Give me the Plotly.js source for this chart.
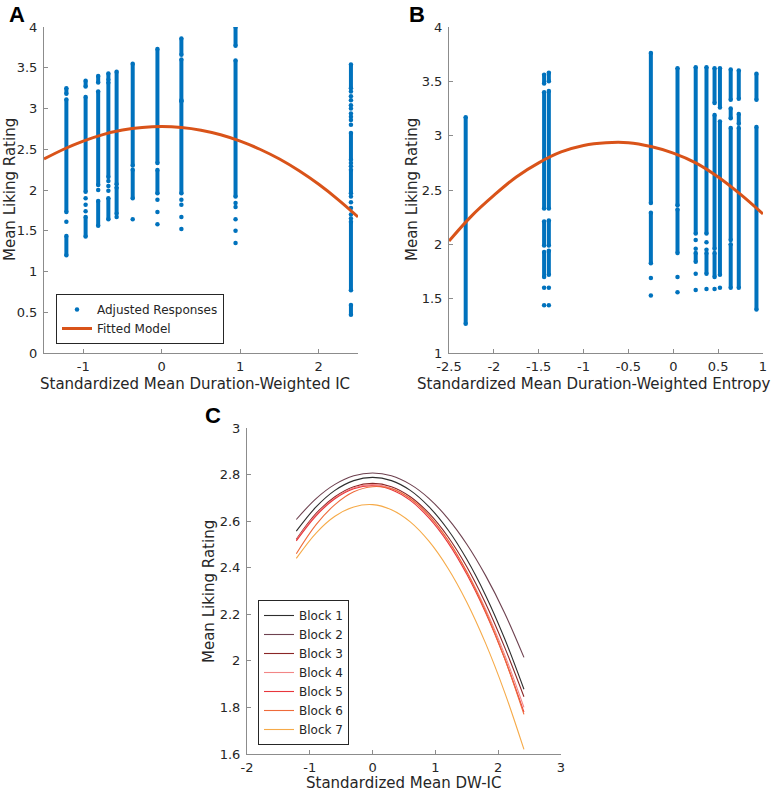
<!DOCTYPE html>
<html><head><meta charset="utf-8">
<script src="https://cdn.plot.ly/plotly-3.0.1.min.js"></script>
<style>html,body{margin:0;padding:0;background:#fff}#chart{width:775px;height:791px}</style>
</head><body><div id="chart"></div>
<script>
// ---------- Panel A: Duration-weighted IC ----------
const icColX = [-1.215, -0.97, -0.81, -0.68, -0.575, -0.37, -0.055, 0.25, 0.94, 2.41];
const icColRuns = [
  [[3.18,3.25],[1.73,3.11],[1.20,1.435]],
  [[3.27,3.34],[1.98,3.14],[1.43,1.67]],
  [[3.32,3.40],[2.06,3.21],[1.56,1.865]],
  [[3.35,3.43],[2.16,3.32],[1.64,1.90]],
  [[2.07,3.45],[1.71,2.03]],
  [[2.30,3.55],[1.90,2.25]],
  [[2.33,3.73],[1.96,2.245]],
  [[3.66,3.86],[3.10,3.60],[1.96,3.09]],
  [[3.77,4.00],[1.92,3.59]],
  [[3.25,3.54],[2.37,2.70],[1.96,2.25],[0.77,1.61],[0.47,0.59]]
];
const icColDots = [
  [1.61],
  [1.90,1.82,1.74],
  [2.00],
  [2.11,2.05,1.99],
  [1.67],
  [1.64],
  [1.88,1.73,1.58],
  [1.88,1.82,1.67,1.52],
  [1.84,1.79,1.64,1.50,1.35],
  [3.21,3.15,3.10,3.04,3.00,2.94,2.90,2.86,2.80,2.33,2.29,1.92,1.85,1.78,1.70,1.65]
];
const icFitX = [-1.5,-1.25,-1,-0.75,-0.5,-0.25,0,0.25,0.5,0.75,1,1.25,1.5,1.75,2,2.25,2.5];
const icFitY = [2.38,2.50,2.60,2.68,2.735,2.767,2.778,2.767,2.734,2.678,2.60,2.50,2.38,2.236,2.07,1.88,1.67];

// ---------- Panel B: Duration-weighted entropy ----------
const entColX = [-2.314, -1.44, -1.387, -0.25, 0.047, 0.25, 0.37, 0.46, 0.52, 0.64, 0.73, 0.927];
const entColRuns = [
  [[1.27,3.17]],
  [[3.48,3.56],[2.33,3.40],[1.99,2.21],[1.70,1.93]],
  [[3.50,3.58],[2.33,3.41],[1.99,2.22],[1.72,1.94]],
  [[2.38,3.76],[1.825,2.29]],
  [[2.36,3.62],[1.92,2.32]],
  [[2.10,3.63],[1.84,1.92]],
  [[2.10,3.63],[1.73,1.92]],
  [[3.30,3.62],[1.96,3.19],[1.70,1.92]],
  [[3.26,3.62],[1.72,3.13]],
  [[3.33,3.61],[3.16,3.25],[2.04,3.07],[1.60,2.00]],
  [[3.34,3.60],[3.11,3.20],[1.60,3.07]],
  [[3.33,3.57],[1.40,3.08]]
];
const entColDots = [
  [],
  [1.60,1.44],
  [1.60,1.44],
  [1.69,1.53],
  [1.70,1.56],
  [2.04,1.96,1.73,1.58],
  [2.02,1.95,1.59],
  [1.59],
  [1.60],
  [],
  [],
  []
];
const entFitX = [-2.5,-2.25,-2,-1.75,-1.5,-1.25,-1,-0.75,-0.5,-0.25,0,0.25,0.5,0.75,1];
const entFitY = [2.03,2.26,2.45,2.62,2.75,2.85,2.91,2.935,2.935,2.90,2.84,2.75,2.62,2.46,2.28];

// ---------- Panel C: fitted model per block ----------
const blockNames = ['Block 1','Block 2','Block 3','Block 4','Block 5','Block 6','Block 7'];
const blockX = [-1.215,-0.9,-0.6,-0.3,0,0.3,0.6,0.9,1.2,1.5,1.8,2.1,2.41];
const block1Y = [2.557,2.661,2.732,2.774,2.788,2.774,2.732,2.661,2.563,2.436,2.281,2.097,1.878];
const block2Y = [2.607,2.697,2.758,2.795,2.807,2.795,2.758,2.697,2.611,2.501,2.366,2.207,2.015];
const block3Y = [2.522,2.633,2.705,2.748,2.762,2.748,2.705,2.633,2.533,2.404,2.246,2.060,1.846];
const block4Y = [2.520,2.628,2.700,2.743,2.757,2.741,2.696,2.622,2.518,2.384,2.222,2.029,1.800];
const block5Y = [2.515,2.623,2.696,2.739,2.752,2.735,2.689,2.613,2.508,2.372,2.207,2.012,1.780];
const block6Y = [2.460,2.585,2.671,2.726,2.748,2.739,2.697,2.624,2.519,2.382,2.212,2.012,1.770];
const block7Y = [2.440,2.549,2.621,2.661,2.671,2.649,2.597,2.513,2.398,2.252,2.075,1.867,1.620];
const blockYs = [block1Y,block2Y,block3Y,block4Y,block5Y,block6Y,block7Y];

// ---------- tick labels ----------
const aXTicks = [-1,0,1,2];
const aYTicks = [0,0.5,1,1.5,2,2.5,3,3.5,4];
const bXTicks = [-2.5,-2,-1.5,-1,-0.5,0,0.5,1];
const bYTicks = [1,1.5,2,2.5,3,3.5,4];
const cXTicks = [-2,-1,0,1,2,3];
const cYTicks = [1.6,1.8,2,2.2,2.4,2.6,2.8,3];

// ---------- styles ----------
const BLUE = '#0072BD', ORANGE = '#D95319';
const blockColors = ['#2e2e2e','#6e4250','#8a2626','#f28686','#e8363c','#ee6a3a','#f6aa48'];
const FONT = 'DejaVu Sans';

function runsXY(xs, runs){
  const x=[], y=[];
  runs.forEach((col,i)=>col.forEach(r=>{x.push(xs[i],xs[i],null); y.push(r[0],r[1],null);}));
  return {x,y};
}
function dotsXY(xs, dots){
  const x=[], y=[];
  dots.forEach((col,i)=>col.forEach(v=>{x.push(xs[i]); y.push(v);}));
  return {x,y};
}
const lbl = v => String(v);

const aRuns = runsXY(icColX, icColRuns), aDots = dotsXY(icColX, icColDots);
const bRuns = runsXY(entColX, entColRuns), bDots = dotsXY(entColX, entColDots);

const traces = [
  {x:aRuns.x, y:aRuns.y, xaxis:'x', yaxis:'y', mode:'lines+markers', type:'scatter',
   line:{color:BLUE,width:4}, marker:{color:BLUE,size:4.5}, showlegend:false, connectgaps:false, hoverinfo:'skip'},
  {x:aDots.x, y:aDots.y, xaxis:'x', yaxis:'y', mode:'markers', type:'scatter', name:'Adjusted Responses',
   marker:{color:BLUE,size:4.5}, legend:'legend'},
  {x:icFitX, y:icFitY, xaxis:'x', yaxis:'y', mode:'lines', type:'scatter', name:'Fitted Model',
   line:{color:ORANGE,width:3,shape:'spline'}, legend:'legend'},
  {x:bRuns.x, y:bRuns.y, xaxis:'x2', yaxis:'y2', mode:'lines+markers', type:'scatter',
   line:{color:BLUE,width:4}, marker:{color:BLUE,size:4.5}, showlegend:false, connectgaps:false, hoverinfo:'skip'},
  {x:bDots.x, y:bDots.y, xaxis:'x2', yaxis:'y2', mode:'markers', type:'scatter',
   marker:{color:BLUE,size:4.5}, showlegend:false},
  {x:entFitX, y:entFitY, xaxis:'x2', yaxis:'y2', mode:'lines', type:'scatter',
   line:{color:ORANGE,width:3,shape:'spline'}, showlegend:false}
];
blockNames.forEach((n,i)=>traces.push({
  x:blockX, y:blockYs[i], xaxis:'x3', yaxis:'y3', mode:'lines', type:'scatter', name:n,
  line:{color:blockColors[i], width:1.1, shape:'spline'}, legend:'legend2'
}));

function ax(extra){
  return Object.assign({
    showline:true, linecolor:'#8c8c8c', linewidth:1, ticks:'inside', ticklen:4, tickcolor:'#8c8c8c',
    showgrid:false, zeroline:false, fixedrange:true,
    tickfont:{family:FONT,size:13,color:'#262626'}, tickmode:'array'
  }, extra);
}

const W=775, H=791;
const px = v => v/W, py = v => 1 - v/H;
const TITLEFONT = {family:FONT,size:15,color:'#262626'};
const LABELFONT = {family:'Liberation Sans',size:22,color:'#000'};
function note(text, x, y, font, angle){
  return {text, x:px(x), y:py(y), xref:'paper', yref:'paper', xanchor:'center', yanchor:'middle',
    showarrow:false, font, textangle:angle||0};
}

const layout = {
  width:W, height:H, margin:{l:0,r:0,t:0,b:0},
  paper_bgcolor:'#fff', plot_bgcolor:'#fff',
  font:{family:FONT, size:13, color:'#262626'},
  xaxis: ax({domain:[px(44),px(358)], range:[-1.5,2.5], anchor:'y', tickvals:aXTicks, ticktext:aXTicks.map(lbl), ticklabelstandoff:1}),
  yaxis: ax({domain:[py(353),py(27)], range:[0,4], anchor:'x', tickvals:aYTicks, ticktext:aYTicks.map(lbl), ticklabelstandoff:3}),
  xaxis2: ax({domain:[px(449),px(763)], range:[-2.5,1], anchor:'y2', tickvals:bXTicks, ticktext:bXTicks.map(lbl), ticklabelstandoff:1}),
  yaxis2: ax({domain:[py(353),py(27)], range:[1,4], anchor:'x2', tickvals:bYTicks, ticktext:bYTicks.map(lbl), ticklabelstandoff:3}),
  xaxis3: ax({domain:[px(247),px(561)], range:[-2,3], anchor:'y3', tickvals:cXTicks, ticktext:cXTicks.map(lbl), ticklabelstandoff:1}),
  yaxis3: ax({domain:[py(754),py(428)], range:[1.6,3], anchor:'x3', tickvals:cYTicks, ticktext:cYTicks.map(lbl), ticklabelstandoff:3}),
  legend:{x:px(56), y:py(344), xanchor:'left', yanchor:'bottom', bgcolor:'#fff', bordercolor:'#262626', borderwidth:1,
    font:{family:FONT,size:12,color:'#262626'}, tracegroupgap:0, itemwidth:30},
  legend2:{x:px(258), y:py(745), xanchor:'left', yanchor:'bottom', bgcolor:'#fff', bordercolor:'#262626', borderwidth:1,
    font:{family:FONT,size:12,color:'#262626'}, tracegroupgap:0, itemwidth:30},
  showlegend:true,
  annotations:[
    {text:'<b>A</b>', x:px(7), y:py(14), xref:'paper', yref:'paper', xanchor:'left', yanchor:'middle', showarrow:false, font:LABELFONT},
    {text:'<b>B</b>', x:px(407), y:py(14), xref:'paper', yref:'paper', xanchor:'left', yanchor:'middle', showarrow:false, font:LABELFONT},
    {text:'<b>C</b>', x:px(203), y:py(416), xref:'paper', yref:'paper', xanchor:'left', yanchor:'middle', showarrow:false, font:LABELFONT},
    note('Standardized Mean Duration-Weighted IC', 195, 384, TITLEFONT),
    note('Standardized Mean Duration-Weighted Entropy', 594, 384, TITLEFONT),
    note('Standardized Mean DW-IC', 404, 783, TITLEFONT),
    note('Mean Liking Rating', 10, 190, TITLEFONT, -90),
    note('Mean Liking Rating', 412, 190, TITLEFONT, -90),
    note('Mean Liking Rating', 209, 591, TITLEFONT, -90)
  ]
};

Plotly.newPlot('chart', traces, layout, {displayModeBar:false, staticPlot:true});
</script></body></html>
